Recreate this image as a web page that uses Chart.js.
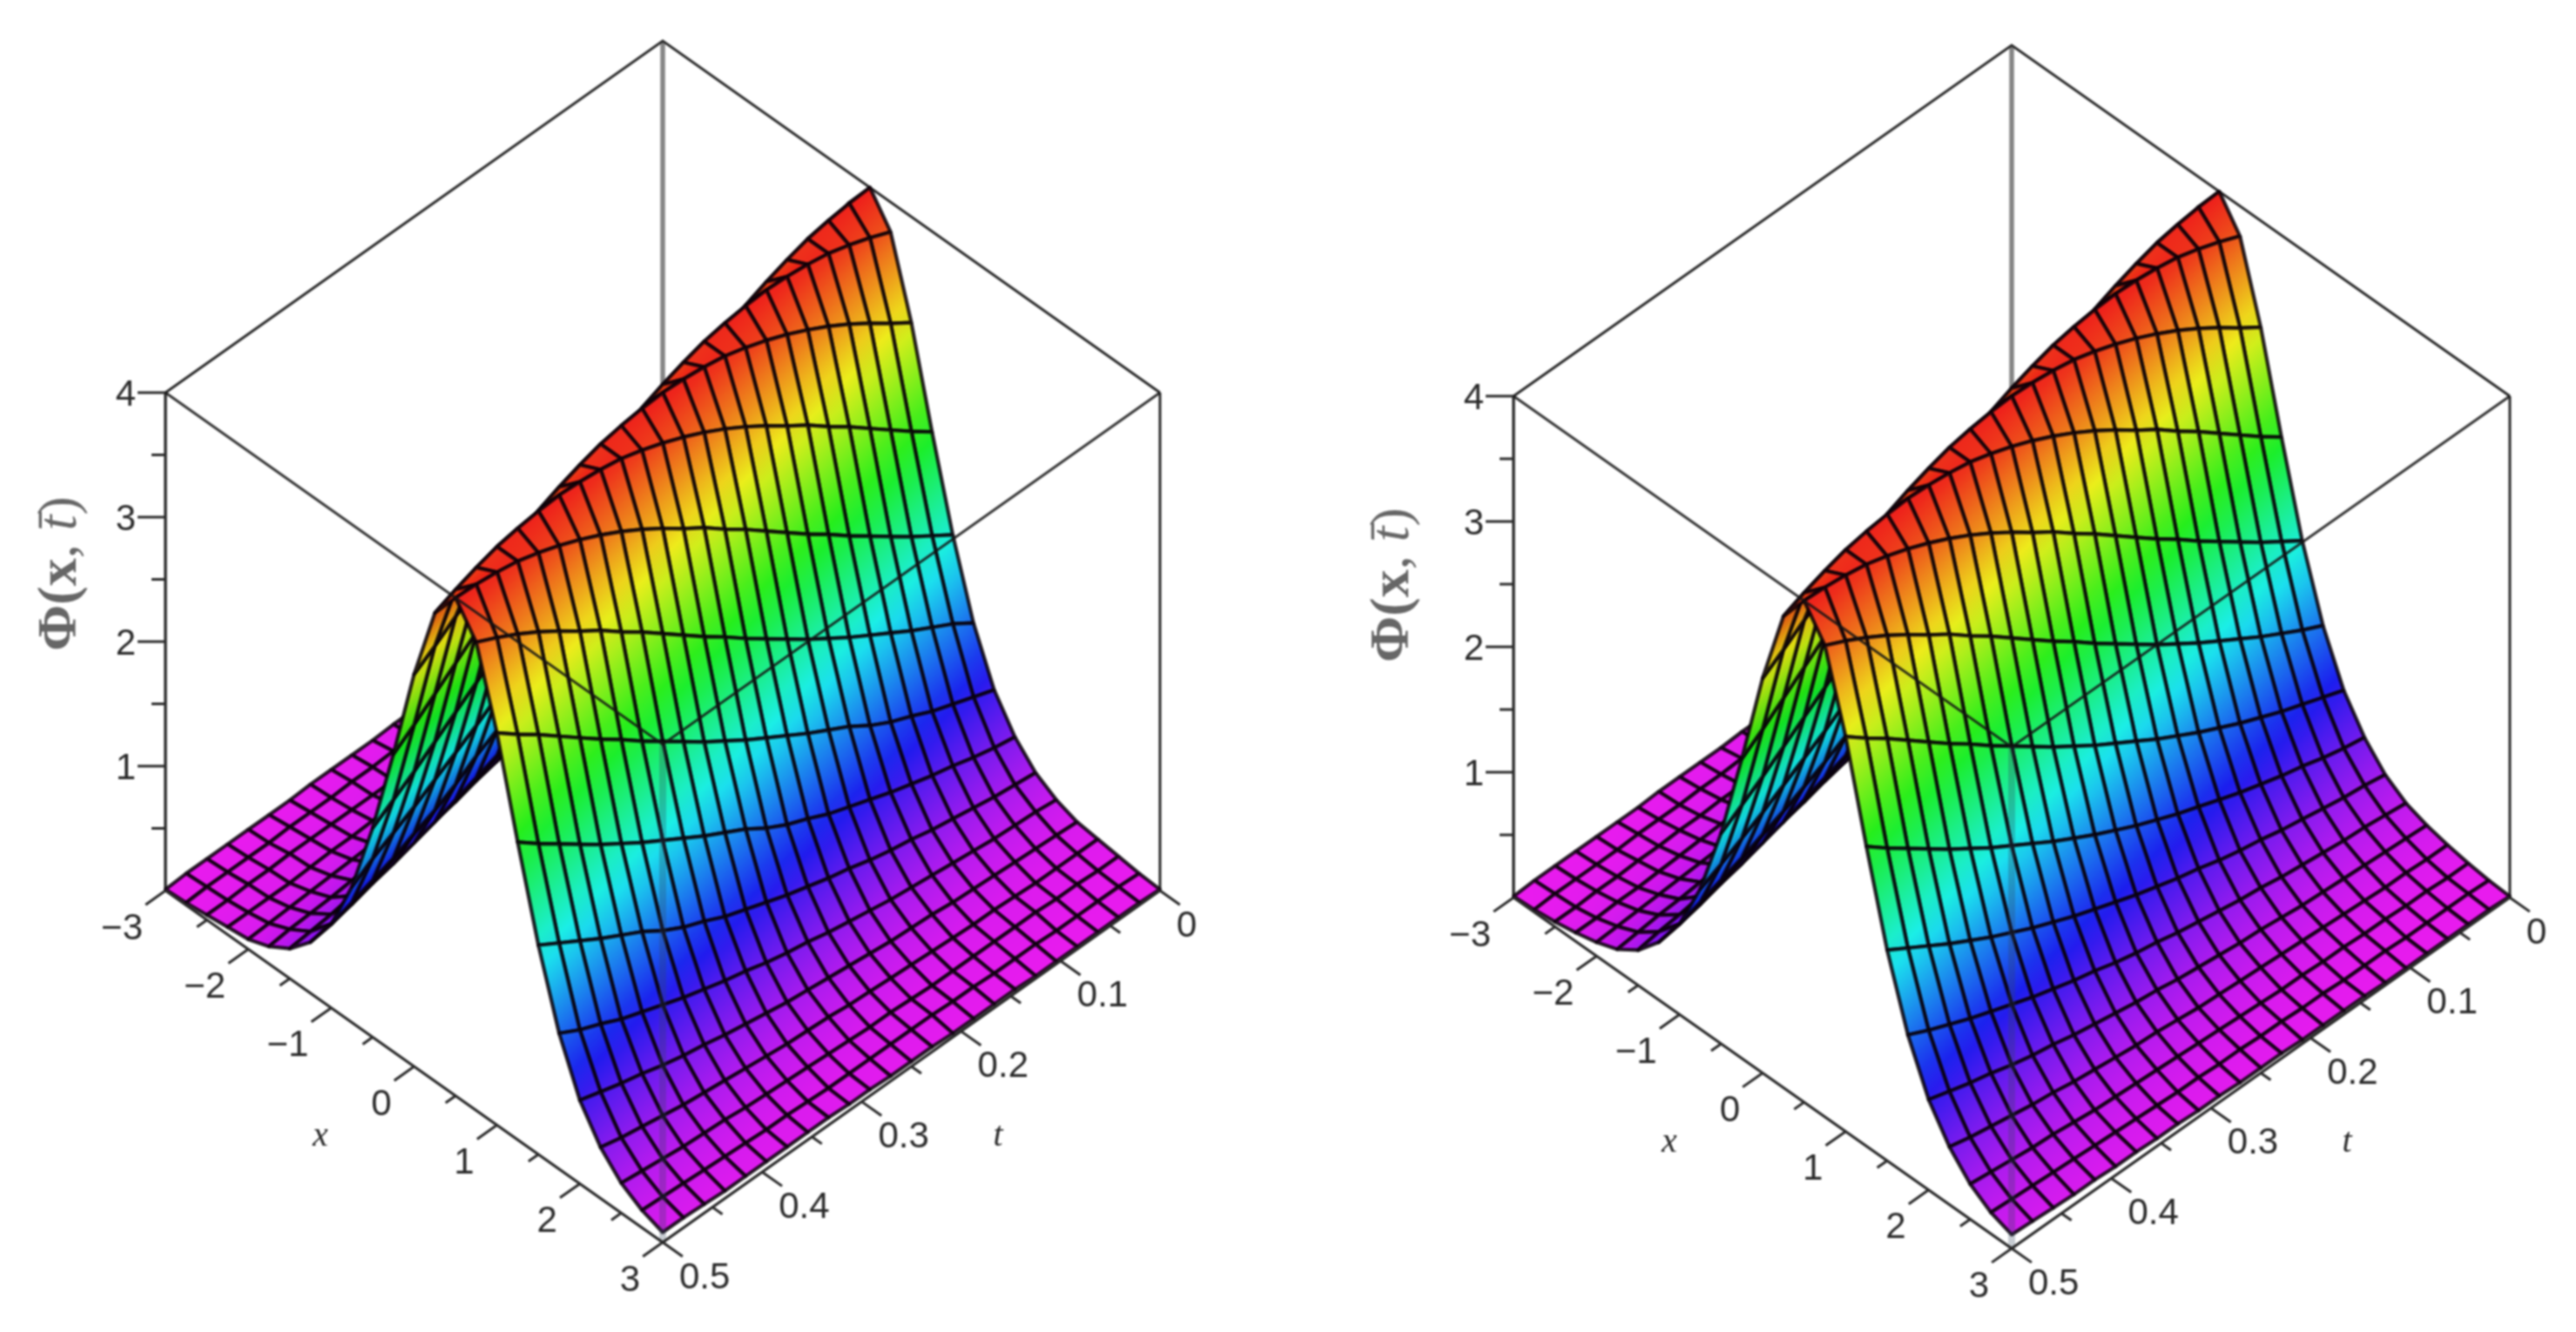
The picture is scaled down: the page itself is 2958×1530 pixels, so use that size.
<!DOCTYPE html>
<html>
<head>
<meta charset="utf-8">
<title>Phi(x,t) surfaces</title>
<script src="https://cdn.jsdelivr.net/npm/chart.js"></script>
<style>
html, body { margin: 0; background: #fff; }
canvas { position: absolute; top: 0; filter: blur(1.1px); }
#leftChart { left: 0; }
#rightChart { left: 1479px; }
</style>
</head>
<body>
<canvas id="leftChart" width="1479" height="1530"></canvas>
<canvas id="rightChart" width="1479" height="1530"></canvas>
<script>
const xGrid = [-3, -2.75, -2.5, -2.25, -2, -1.75, -1.5, -1.25, -1, -0.75, -0.5, -0.25, 0, 0.25, 0.5, 0.75, 1, 1.25, 1.5, 1.75, 2, 2.25, 2.5, 2.75, 3];
const tGrid = [0, 0.0208, 0.0417, 0.0625, 0.0833, 0.1042, 0.125, 0.1458, 0.1667, 0.1875, 0.2083, 0.2292, 0.25, 0.2708, 0.2917, 0.3125, 0.3333, 0.3542, 0.375, 0.3958, 0.4167, 0.4375, 0.4583, 0.4792, 0.5];

const xTicks = [-3, -2.5, -2, -1.5, -1, -0.5, 0, 0.5, 1, 1.5, 2, 2.5, 3];
const xTickLabels = ['−3', '', '−2', '', '−1', '', '0', '', '1', '', '2', '', '3'];
const tTicks = [0, 0.05, 0.1, 0.15, 0.2, 0.25, 0.3, 0.35, 0.4, 0.45, 0.5];
const tTickLabels = ['0', '', '0.1', '', '0.2', '', '0.3', '', '0.4', '', '0.5'];
const phiTicks = [0.5, 1, 1.5, 2, 2.5, 3, 3.5, 4];
const phiTickLabels = ['', '1', '', '2', '', '3', '', '4'];

// one row per t, one column per x
const phiLeft = [
  [.08,.14,.24,.41,.67,1.09,1.68,2.39,3.15,3.76,4.00,3.76,3.15,2.39,1.68,1.09,.67,.41,.24,.14,.08,.06,.04,.02,.01],
  [.08,.13,.22,.37,.62,1.00,1.58,2.26,3.02,3.68,3.99,3.83,3.26,2.51,1.79,1.20,.73,.44,.26,.16,.09,.06,.04,.03,.02],
  [.07,.12,.20,.34,.57,.93,1.48,2.14,2.90,3.59,3.97,3.89,3.38,2.64,1.90,1.29,.79,.48,.28,.17,.10,.06,.05,.03,.02],
  [.06,.11,.18,.31,.53,.85,1.38,2.02,2.77,3.49,3.94,3.94,3.49,2.77,2.02,1.38,.85,.53,.31,.18,.11,.06,.05,.03,.02],
  [.06,.10,.17,.28,.48,.79,1.29,1.90,2.64,3.38,3.89,3.97,3.59,2.90,2.14,1.48,.93,.57,.34,.20,.12,.07,.06,.03,.02],
  [.06,.09,.16,.26,.44,.73,1.20,1.79,2.51,3.26,3.83,3.99,3.68,3.02,2.26,1.58,1.00,.62,.37,.22,.13,.08,.06,.04,.02],
  [.06,.08,.14,.24,.41,.67,1.09,1.68,2.39,3.15,3.76,4.00,3.76,3.15,2.39,1.68,1.09,.67,.41,.24,.14,.08,.06,.04,.02],
  [.06,.08,.13,.22,.37,.62,1.00,1.58,2.26,3.02,3.68,3.99,3.83,3.26,2.51,1.79,1.20,.73,.44,.26,.16,.09,.06,.04,.03],
  [.06,.07,.12,.20,.34,.57,.93,1.48,2.14,2.90,3.59,3.97,3.89,3.38,2.64,1.90,1.29,.79,.48,.28,.17,.10,.06,.05,.03],
  [.05,.06,.11,.18,.31,.53,.85,1.38,2.02,2.77,3.49,3.94,3.94,3.49,2.77,2.02,1.38,.85,.53,.31,.18,.11,.06,.05,.03],
  [.05,.06,.10,.17,.28,.48,.79,1.29,1.90,2.64,3.38,3.89,3.97,3.59,2.90,2.14,1.48,.93,.57,.34,.20,.12,.07,.06,.03],
  [.04,.06,.09,.16,.26,.44,.73,1.20,1.79,2.51,3.26,3.83,3.99,3.68,3.02,2.26,1.58,1.00,.62,.37,.22,.13,.08,.06,.04],
  [.04,.06,.08,.14,.24,.41,.67,1.09,1.68,2.39,3.15,3.76,4.00,3.76,3.15,2.39,1.68,1.09,.67,.41,.24,.14,.08,.06,.04],
  [.04,.06,.08,.13,.22,.37,.62,1.00,1.58,2.26,3.02,3.68,3.99,3.83,3.26,2.51,1.79,1.20,.73,.44,.26,.16,.09,.06,.04],
  [.03,.06,.07,.12,.20,.34,.57,.93,1.48,2.14,2.90,3.59,3.97,3.89,3.38,2.64,1.90,1.29,.79,.48,.28,.17,.10,.06,.05],
  [.03,.05,.06,.11,.18,.31,.53,.85,1.38,2.02,2.77,3.49,3.94,3.94,3.49,2.77,2.02,1.38,.85,.53,.31,.18,.11,.06,.05],
  [.03,.05,.06,.10,.17,.28,.48,.79,1.29,1.90,2.64,3.38,3.89,3.97,3.59,2.90,2.14,1.48,.93,.57,.34,.20,.12,.07,.06],
  [.03,.04,.06,.09,.16,.26,.44,.73,1.20,1.79,2.51,3.26,3.83,3.99,3.68,3.02,2.26,1.58,1.00,.62,.37,.22,.13,.08,.06],
  [.02,.04,.06,.08,.14,.24,.41,.67,1.09,1.68,2.39,3.15,3.76,4.00,3.76,3.15,2.39,1.68,1.09,.67,.41,.24,.14,.08,.06],
  [.02,.04,.06,.08,.13,.22,.37,.62,1.00,1.58,2.26,3.02,3.68,3.99,3.83,3.26,2.51,1.79,1.20,.73,.44,.26,.16,.09,.06],
  [.02,.03,.06,.07,.12,.20,.34,.57,.93,1.48,2.14,2.90,3.59,3.97,3.89,3.38,2.64,1.90,1.29,.79,.48,.28,.17,.10,.06],
  [.02,.03,.05,.06,.11,.18,.31,.53,.85,1.38,2.02,2.77,3.49,3.94,3.94,3.49,2.77,2.02,1.38,.85,.53,.31,.18,.11,.06],
  [.02,.03,.05,.06,.10,.17,.28,.48,.79,1.29,1.90,2.64,3.38,3.89,3.97,3.59,2.90,2.14,1.48,.93,.57,.34,.20,.12,.07],
  [.02,.03,.04,.06,.09,.16,.26,.44,.73,1.20,1.79,2.51,3.26,3.83,3.99,3.68,3.02,2.26,1.58,1.00,.62,.37,.22,.13,.08],
  [.01,.02,.04,.06,.08,.14,.24,.41,.67,1.09,1.68,2.39,3.15,3.76,4.00,3.76,3.15,2.39,1.68,1.09,.67,.41,.24,.14,.08]
];

// same layout, right plot (tail sits a little higher)
const phiRight = [
  [.11,.17,.28,.46,.72,1.12,1.68,2.39,3.15,3.76,4.00,3.76,3.15,2.39,1.68,1.12,.72,.46,.28,.17,.11,.07,.04,.02,.01],
  [.10,.16,.26,.42,.67,1.04,1.58,2.26,3.02,3.68,3.99,3.83,3.26,2.51,1.79,1.20,.78,.49,.31,.19,.12,.07,.04,.03,.02],
  [.09,.15,.24,.39,.62,.97,1.48,2.14,2.90,3.59,3.97,3.89,3.38,2.64,1.90,1.29,.84,.53,.33,.21,.13,.08,.05,.03,.02],
  [.08,.14,.22,.36,.58,.90,1.38,2.02,2.77,3.49,3.94,3.94,3.49,2.77,2.02,1.38,.90,.58,.36,.22,.14,.08,.05,.03,.02],
  [.08,.13,.21,.33,.53,.84,1.29,1.90,2.64,3.38,3.89,3.97,3.59,2.90,2.14,1.48,.97,.62,.39,.24,.15,.09,.06,.03,.02],
  [.07,.12,.19,.31,.49,.78,1.20,1.79,2.51,3.26,3.83,3.99,3.68,3.02,2.26,1.58,1.04,.67,.42,.26,.16,.10,.06,.04,.02],
  [.07,.11,.17,.28,.46,.72,1.12,1.68,2.39,3.15,3.76,4.00,3.76,3.15,2.39,1.68,1.12,.72,.46,.28,.17,.11,.07,.04,.02],
  [.06,.10,.16,.26,.42,.67,1.04,1.58,2.26,3.02,3.68,3.99,3.83,3.26,2.51,1.79,1.20,.78,.49,.31,.19,.12,.07,.04,.03],
  [.06,.09,.15,.24,.39,.62,.97,1.48,2.14,2.90,3.59,3.97,3.89,3.38,2.64,1.90,1.29,.84,.53,.33,.21,.13,.08,.05,.03],
  [.05,.08,.14,.22,.36,.58,.90,1.38,2.02,2.77,3.49,3.94,3.94,3.49,2.77,2.02,1.38,.90,.58,.36,.22,.14,.08,.05,.03],
  [.05,.08,.13,.21,.33,.53,.84,1.29,1.90,2.64,3.38,3.89,3.97,3.59,2.90,2.14,1.48,.97,.62,.39,.24,.15,.09,.06,.03],
  [.04,.07,.12,.19,.31,.49,.78,1.20,1.79,2.51,3.26,3.83,3.99,3.68,3.02,2.26,1.58,1.04,.67,.42,.26,.16,.10,.06,.04],
  [.04,.07,.11,.17,.28,.46,.72,1.12,1.68,2.39,3.15,3.76,4.00,3.76,3.15,2.39,1.68,1.12,.72,.46,.28,.17,.11,.07,.04],
  [.04,.06,.10,.16,.26,.42,.67,1.04,1.58,2.26,3.02,3.68,3.99,3.83,3.26,2.51,1.79,1.20,.78,.49,.31,.19,.12,.07,.04],
  [.03,.06,.09,.15,.24,.39,.62,.97,1.48,2.14,2.90,3.59,3.97,3.89,3.38,2.64,1.90,1.29,.84,.53,.33,.21,.13,.08,.05],
  [.03,.05,.08,.14,.22,.36,.58,.90,1.38,2.02,2.77,3.49,3.94,3.94,3.49,2.77,2.02,1.38,.90,.58,.36,.22,.14,.08,.05],
  [.03,.05,.08,.13,.21,.33,.53,.84,1.29,1.90,2.64,3.38,3.89,3.97,3.59,2.90,2.14,1.48,.97,.62,.39,.24,.15,.09,.06],
  [.03,.04,.07,.12,.19,.31,.49,.78,1.20,1.79,2.51,3.26,3.83,3.99,3.68,3.02,2.26,1.58,1.04,.67,.42,.26,.16,.10,.06],
  [.02,.04,.07,.11,.17,.28,.46,.72,1.12,1.68,2.39,3.15,3.76,4.00,3.76,3.15,2.39,1.68,1.12,.72,.46,.28,.17,.11,.07],
  [.02,.04,.06,.10,.16,.26,.42,.67,1.04,1.58,2.26,3.02,3.68,3.99,3.83,3.26,2.51,1.79,1.20,.78,.49,.31,.19,.12,.07],
  [.02,.03,.06,.09,.15,.24,.39,.62,.97,1.48,2.14,2.90,3.59,3.97,3.89,3.38,2.64,1.90,1.29,.84,.53,.33,.21,.13,.08],
  [.02,.03,.05,.08,.14,.22,.36,.58,.90,1.38,2.02,2.77,3.49,3.94,3.94,3.49,2.77,2.02,1.38,.90,.58,.36,.22,.14,.08],
  [.02,.03,.05,.08,.13,.21,.33,.53,.84,1.29,1.90,2.64,3.38,3.89,3.97,3.59,2.90,2.14,1.48,.97,.62,.39,.24,.15,.09],
  [.02,.03,.04,.07,.12,.19,.31,.49,.78,1.20,1.79,2.51,3.26,3.83,3.99,3.68,3.02,2.26,1.58,1.04,.67,.42,.26,.16,.10],
  [.01,.02,.04,.07,.11,.17,.28,.46,.72,1.12,1.68,2.39,3.15,3.76,4.00,3.76,3.15,2.39,1.68,1.12,.72,.46,.28,.17,.11]
];

// pixel layout of the two boxes inside their canvases
const leftView = { frontX: 761, halfWidth: 571, backY: 619, halfDepth: 404, phiUnit: 143, phiLabelX: 70, phiLabelY: 659 };
const rightView = { frontX: 831, halfWidth: 572, backY: 628, halfDepth: 403, phiUnit: 144, phiLabelX: 121, phiLabelY: 672 };

const W = 1479, H = 1530;
const xMin = -3, xMax = 3, tMin = 0, tMax = 0.5, phiMax = 4;
const gridColor = 'rgba(8,0,8,0.86)';
const gridWidth = 4.2;
const inkColor = '#2a2a2a';

function project(view, x, t, phi) {
  const u = (x - xMin) / (xMax - xMin);
  const w = (t - tMin) / (tMax - tMin);
  return { x: u - w, y: phi - (u + w) * view.halfDepth / view.phiUnit };
}

function zColor(z, light) {
  const c = Math.max(0, Math.min(phiMax, z));
  return 'hsl(' + (300 * (1 - c / phiMax)).toFixed(1) + ',86%,' + light + '%)';
}

function cellFill(chart, view, phi, i, j) {
  if (!chart.chartArea) return 'transparent';
  const sx = chart.scales.x, sy = chart.scales.y;
  const pix = (ii, jj) => {
    const p = project(view, xGrid[ii], tGrid[jj], phi[jj][ii]);
    return { x: sx.getPixelForValue(p.x), y: sy.getPixelForValue(p.y) };
  };
  const p00 = pix(i, j), p10 = pix(i + 1, j), p01 = pix(i, j + 1), p11 = pix(i + 1, j + 1);
  const z00 = phi[j][i], z10 = phi[j][i + 1], z01 = phi[j + 1][i], z11 = phi[j + 1][i + 1];
  const zc = (z00 + z10 + z01 + z11) / 4;
  const dza = (z10 + z11 - z00 - z01) / 2, dzb = (z01 + z11 - z00 - z10) / 2;
  const a = { x: (p10.x + p11.x - p00.x - p01.x) / 2, y: (p10.y + p11.y - p00.y - p01.y) / 2 };
  const b = { x: (p01.x + p11.x - p00.x - p10.x) / 2, y: (p01.y + p11.y - p00.y - p10.y) / 2 };
  // the slope side that faces away from the viewer is a touch darker
  const light = Math.round(52 - 5 * Math.min(1, Math.max(0, dza) / 0.5));
  const det = a.x * b.y - a.y * b.x;
  const gx = (dza * b.y - a.y * dzb) / det, gy = (a.x * dzb - b.x * dza) / det;
  const gg = gx * gx + gy * gy;
  if (Math.abs(det) < 40 || gg < 1e-7) return zColor(zc, light);
  const span = 1.2 * Math.max(Math.abs(z00 - zc), Math.abs(z10 - zc), Math.abs(z01 - zc), Math.abs(z11 - zc));
  const cx = (p00.x + p10.x + p01.x + p11.x) / 4, cy = (p00.y + p10.y + p01.y + p11.y) / 4;
  const vx = gx / gg * span, vy = gy / gg * span;
  const grad = chart.ctx.createLinearGradient(cx - vx, cy - vy, cx + vx, cy + vy);
  for (let s = 0; s <= 4; s++) {
    grad.addColorStop(s / 4, zColor(zc - span + span * s / 2, light));
  }
  return grad;
}

function lineSet(points, color, width) {
  return { data: points, borderColor: color, borderWidth: width, fill: false, pointRadius: 0, tension: 0 };
}

function buildDatasets(view, phi) {
  const P = (x, t, z) => project(view, x, t, z);
  const back = [
    lineSet([P(xMin, tMin, 0), P(xMin, tMin, phiMax)], '#868686', 5.5),
    lineSet([P(xMin, tMax, phiMax), P(xMin, tMin, phiMax), P(xMax, tMin, phiMax)], inkColor, 3),
    lineSet([P(xMin, tMax, 0), P(xMin, tMax, phiMax)], inkColor, 3.4),
    lineSet([P(xMax, tMin, 0), P(xMax, tMin, phiMax)], inkColor, 3)
  ];
  const surface = [];
  for (let i = 0; i < xGrid.length - 1; i++) {
    for (let j = 0; j < tGrid.length - 1; j++) {
      surface.push({
        data: [P(xGrid[i], tGrid[j], phi[j][i]), P(xGrid[i + 1], tGrid[j], phi[j][i + 1]),
               P(xGrid[i + 1], tGrid[j + 1], phi[j + 1][i + 1]), P(xGrid[i], tGrid[j + 1], phi[j + 1][i]),
               P(xGrid[i], tGrid[j], phi[j][i])],
        fill: 'shape',
        backgroundColor: ctx => cellFill(ctx.chart, view, phi, i, j),
        pointBackgroundColor: 'transparent',
        pointBorderColor: 'transparent',
        borderColor: gridColor,
        borderWidth: gridWidth,
        borderJoinStyle: 'round',
        pointRadius: 0,
        tension: 0
      });
    }
  }
  const front = [
    lineSet([P(xMax, tMax, 0), P(xMax, tMax, phiMax)], 'rgba(50,70,90,0.28)', 8),
    lineSet([P(xMin, tMax, phiMax), P(xMax, tMax, phiMax), P(xMax, tMin, phiMax)], 'rgba(20,20,20,0.86)', 3),
    lineSet([P(xMin, tMax, 0), P(xMax, tMax, 0), P(xMax, tMin, 0)], inkColor, 3.2)
  ];
  xTicks.forEach((x, k) => {
    const reach = xTickLabels[k] ? 0.02 : 0.01;
    front.push(lineSet([P(x, tMax, 0), P(x, tMax + reach, 0)], inkColor, 3));
  });
  tTicks.forEach((t, k) => {
    const reach = tTickLabels[k] ? 0.24 : 0.12;
    front.push(lineSet([P(xMax, t, 0), P(xMax + reach, t, 0)], inkColor, 3));
  });
  phiTicks.forEach((z, k) => {
    const p = P(xMin, tMax, z);
    const reach = (phiTickLabels[k] ? 32 : 16) / view.halfWidth;
    front.push(lineSet([p, { x: p.x - reach, y: p.y }], inkColor, 3));
  });
  return back.concat(surface, front).reverse();
}

function drawRuns(ctx, runs) {
  const total = runs.reduce((n, r) => { ctx.font = r[1]; return n + ctx.measureText(r[0]).width; }, 0);
  let pos = -total / 2;
  runs.forEach(r => {
    ctx.font = r[1];
    ctx.fillText(r[0], pos, 0);
    pos += ctx.measureText(r[0]).width;
  });
}

function axisTextPlugin(view) {
  return {
    id: 'axisText',
    afterDatasetsDraw(chart) {
      const ctx = chart.ctx, sx = chart.scales.x, sy = chart.scales.y;
      const at = (x, t, z) => {
        const p = project(view, x, t, z);
        return { x: sx.getPixelForValue(p.x), y: sy.getPixelForValue(p.y) };
      };
      ctx.save();
      ctx.fillStyle = '#2a2a2a';
      ctx.textBaseline = 'middle';
      ctx.font = '42px "Liberation Sans"';
      ctx.textAlign = 'right';
      xTicks.forEach((x, k) => {
        const p = at(x, tMax, 0);
        ctx.fillText(xTickLabels[k], p.x - 26, p.y + 44);
      });
      phiTicks.forEach((z, k) => {
        const p = at(xMin, tMax, z);
        ctx.fillText(phiTickLabels[k], p.x - 34, p.y + 3);
      });
      ctx.textAlign = 'left';
      tTicks.forEach((t, k) => {
        const p = at(xMax, t, 0);
        ctx.fillText(tTickLabels[k], p.x + 19, p.y + 41);
      });
      ctx.textAlign = 'center';
      ctx.font = 'italic 40px "Liberation Serif"';
      const f = at(xMax, tMax, 0);
      ctx.fillText('x', f.x - 393, f.y - 122);
      ctx.fillText('t', f.x + 385, f.y - 122);
      ctx.translate(view.phiLabelX, view.phiLabelY);
      ctx.rotate(-Math.PI / 2);
      ctx.textAlign = 'left';
      ctx.fillStyle = '#666';
      drawRuns(ctx, [
        ['Φ(', 'bold 64px "Liberation Serif"'],
        ['x', 'bold 64px "Liberation Serif"'],
        [', ', '64px "Liberation Serif"'],
        ['t\u0304', 'italic 64px "Liberation Serif"'],
        [')', '64px "Liberation Serif"']
      ]);
      ctx.restore();
    }
  };
}

function makeChart(canvasId, view, phi) {
  return new Chart(document.getElementById(canvasId), {
    type: 'line',
    data: { datasets: buildDatasets(view, phi) },
    plugins: [axisTextPlugin(view)],
    options: {
      responsive: false,
      devicePixelRatio: 1,
      animation: false,
      events: [],
      layout: { padding: 0 },
      plugins: { legend: { display: false }, tooltip: { enabled: false }, filler: { propagate: false } },
      scales: {
        x: { type: 'linear', display: false, min: -view.frontX / view.halfWidth, max: (W - view.frontX) / view.halfWidth },
        y: { type: 'linear', display: false, min: (view.backY - H) / view.phiUnit, max: view.backY / view.phiUnit }
      }
    }
  });
}

makeChart('leftChart', leftView, phiLeft);
makeChart('rightChart', rightView, phiRight);
</script>
</body>
</html>
